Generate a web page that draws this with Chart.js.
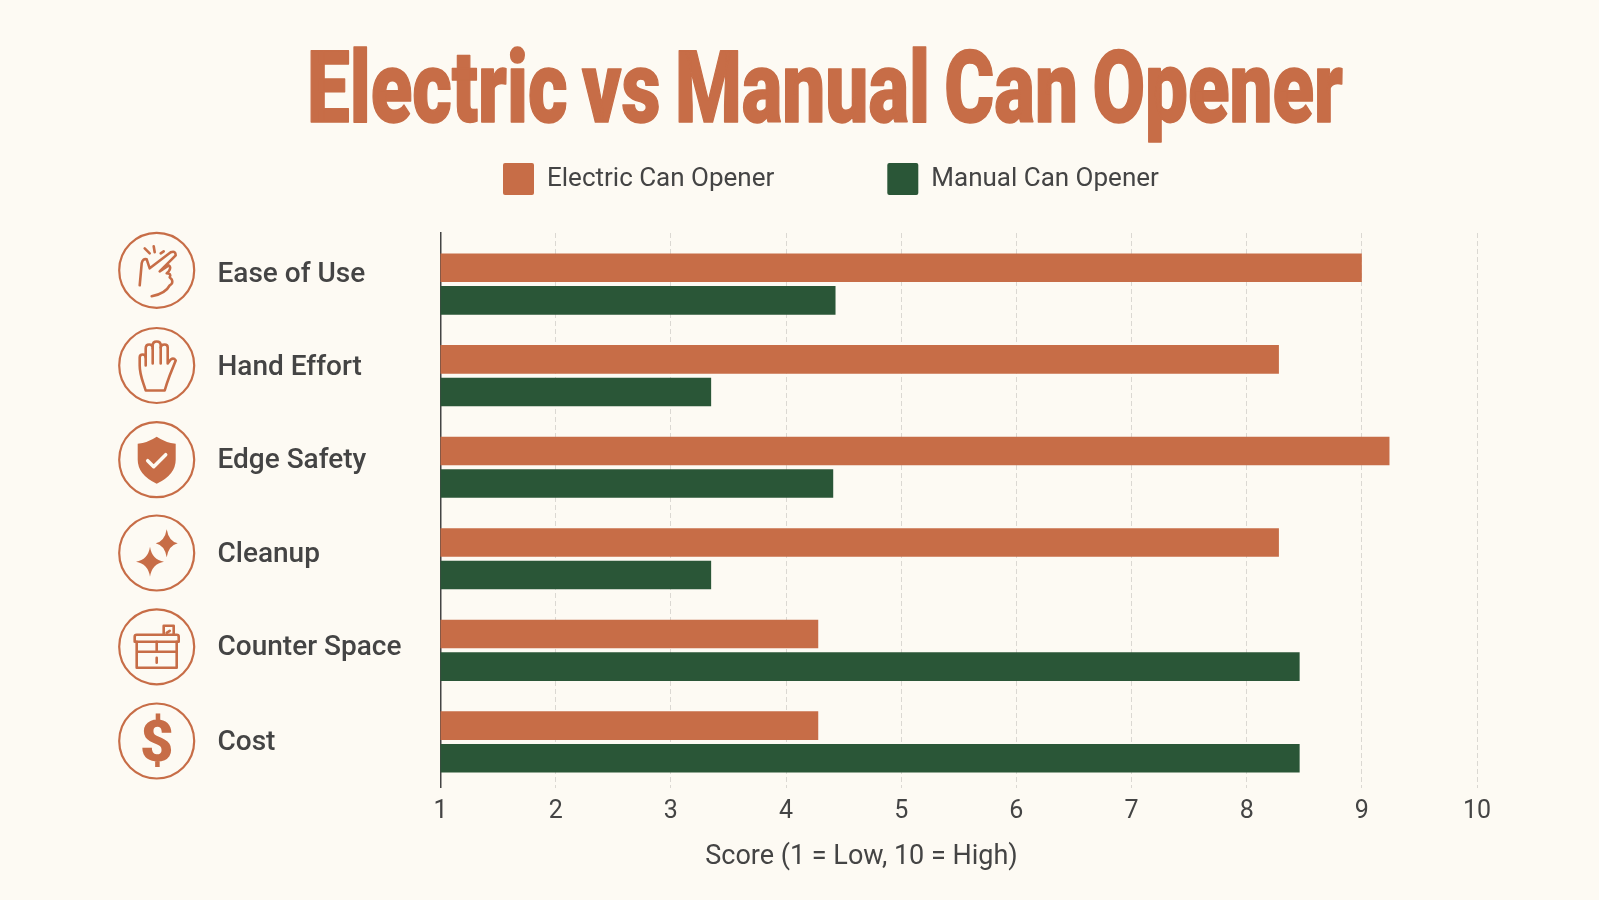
<!DOCTYPE html>
<html>
<head>
<meta charset="utf-8">
<title>Electric vs Manual Can Opener</title>
<script src="https://cdn.jsdelivr.net/npm/chart.js@4"></script>
<style>
  html, body { margin: 0; padding: 0; background: #FDFAF3; }
  canvas { display: block; }
</style>
</head>
<body>
<canvas id="chart_scores" width="1599" height="900"></canvas>
<script>
const categories = ['Ease of Use', 'Hand Effort', 'Edge Safety', 'Cleanup', 'Counter Space', 'Cost'];
const electricScores = [9.0, 8.28, 9.24, 8.28, 4.28, 4.28];
const manualScores = [4.43, 3.35, 4.41, 3.35, 8.46, 8.46];
const scoreTicks = [1, 2, 3, 4, 5, 6, 7, 8, 9, 10];
const chartTitle = 'Electric vs Manual Can Opener';
const axisTitle = 'Score (1 = Low, 10 = High)';

const ORANGE = '#C76D47';
const GREEN = '#2A5637';
const TEXT = '#444444';
const PAPER = '#FDFAF3';

// left column rows are spaced a little wider than the bars
const iconCenterY = [270.3, 365.5, 459.7, 553, 646.8, 741];
const labelBaseY = [281.7, 375, 468.3, 561.7, 654.5, 750];

function strokeIcon(ctx, d) {
    ctx.stroke(new Path2D(d));
}

function star(cx, cy, rx, ry) {
    return `M${cx},${cy - ry} Q${cx + 2},${cy - 2} ${cx + rx},${cy} Q${cx + 2},${cy + 2} ${cx},${cy + ry} Q${cx - 2},${cy + 2} ${cx - rx},${cy} Q${cx - 2},${cy - 2} ${cx},${cy - ry} Z`;
}

const icons = [
    function (ctx) {
        ctx.lineWidth = 2.6;
        strokeIcon(ctx, 'M-17,15 L-15,-7 Q-14,-12 -10,-11 L-7,-2 L14,-18 Q19,-20 19,-15 L3,1 L12,-5 Q15,-3 12,1 L10,3 Q15,3 13,7 L15,9 Q17,13 13,15 Q9,23 -5,26');
        strokeIcon(ctx, 'M-12,-22 L-7,-17 M-3,-24 L-2,-18 M4,-17 L7,-19');
    },
    function (ctx) {
        ctx.lineWidth = 2.6;
        strokeIcon(ctx, 'M-11,25 C-14,15 -17,10 -17,0 L-17,-8 Q-17,-11 -14,-11 Q-11,-11 -11,-8 L-11,-17 Q-11,-21 -7.5,-21 Q-4,-21 -4,-17 L-4,-20 Q-4,-24 0,-24 Q4,-24 4,-20 L4,-18 Q4,-21 8,-21 Q11,-21 11,-18 L11,-2 L14,-6 Q17,-8 19,-5 L13,10 Q10,18 8,25 Z');
        strokeIcon(ctx, 'M-11,-8 L-11,0 M-4,-17 L-4,-2 M4,-18 L4,-2');
    },
    function (ctx) {
        ctx.fill(new Path2D('M0,-23 Q9,-17 19,-16 L19,0 Q19,15 0,24 Q-19,15 -19,0 L-19,-16 Q-9,-17 0,-23 Z'));
        ctx.save();
        ctx.strokeStyle = PAPER;
        ctx.lineWidth = 3.5;
        strokeIcon(ctx, 'M-9,1 L-3,7 L9,-5');
        ctx.restore();
    },
    function (ctx) {
        ctx.fill(new Path2D(star(-6.7, 8.7, 14, 15)));
        ctx.fill(new Path2D(star(10, -9.7, 11, 14)));
    },
    function (ctx) {
        ctx.lineWidth = 2.6;
        strokeIcon(ctx, 'M-22,-5 L-22,-10 Q-22,-12 -20,-12 L20,-12 Q22,-12 22,-10 L22,-5 Z');
        strokeIcon(ctx, 'M-20,-5 L-20,21 L20,21 L20,-5 M-20,5 L20,5 M0,-5 L0,5 M0,11 L0,16');
        strokeIcon(ctx, 'M7,-12 L7,-21 L17,-21 L17,-12 M10,-14 L13,-16');
    },
    function (ctx) {
        ctx.font = '900 58px Roboto';
        ctx.textAlign = 'center';
        ctx.textBaseline = 'alphabetic';
        ctx.fillText('$', 0, 20);
    }
];

// title, category column and axis caption are placed by hand, the chart
// layout would only centre them on the plot area
const decorPlugin = {
    id: 'decor',
    afterLayout(chart) {
        chart.legend.left = 503 - 113;
        chart.legend.top = 163 - 113;
    },
    afterDraw(chart) {
        const ctx = chart.ctx;

        // condensed heavy headline: squeeze the face to the wanted width
        ctx.save();
        ctx.fillStyle = ORANGE;
        ctx.strokeStyle = ORANGE;
        ctx.lineWidth = 1.5;
        ctx.lineJoin = 'round';
        ctx.font = '900 101px Roboto';
        ctx.wordSpacing = '-6px';
        ctx.textAlign = 'center';
        ctx.textBaseline = 'alphabetic';
        const squeeze = 1036 / ctx.measureText(chartTitle).width;
        ctx.translate(825, 121.5);
        ctx.scale(squeeze, 1);
        ctx.fillText(chartTitle, 0, 0);
        ctx.strokeText(chartTitle, 0, 0);
        ctx.restore();

        categories.forEach((name, i) => {
            ctx.save();
            ctx.translate(156.7, iconCenterY[i]);
            ctx.strokeStyle = ORANGE;
            ctx.fillStyle = ORANGE;
            ctx.lineWidth = 2.2;
            ctx.lineCap = 'round';
            ctx.lineJoin = 'round';
            ctx.beginPath();
            ctx.arc(0, 0, 37.5, 0, Math.PI * 2);
            ctx.stroke();
            icons[i](ctx);
            ctx.restore();

            ctx.save();
            ctx.fillStyle = TEXT;
            ctx.font = '500 28px Roboto';
            ctx.textAlign = 'left';
            ctx.textBaseline = 'alphabetic';
            ctx.fillText(name, 217.5, labelBaseY[i]);
            ctx.restore();
        });

        ctx.save();
        ctx.fillStyle = TEXT;
        ctx.font = '27px Roboto';
        ctx.textAlign = 'center';
        ctx.textBaseline = 'alphabetic';
        ctx.fillText(axisTitle, 861.5, 864);
        ctx.restore();
    }
};

function createChart() {
    const chart = new Chart('chart_scores', {
        type: 'bar',
        data: {
            datasets: [
                {
                    label: 'Electric Can Opener',
                    data: electricScores.map((v, i) => ({ x: v, y: i })),
                    backgroundColor: ORANGE
                },
                {
                    label: 'Manual Can Opener',
                    data: manualScores.map((v, i) => ({ x: v, y: i })),
                    backgroundColor: GREEN
                }
            ]
        },
        plugins: [decorPlugin],
        options: {
            indexAxis: 'y',
            responsive: false,
            animation: false,
            layout: {
                padding: { left: 440.5, right: 122, top: 78, bottom: 72.5 }
            },
            datasets: {
                bar: { categoryPercentage: 0.711, barPercentage: 0.878 }
            },
            scales: {
                x: {
                    type: 'linear',
                    min: 1,
                    max: 10,
                    afterBuildTicks: scale => {
                        scale.ticks = scoreTicks.map(v => ({ value: v }));
                    },
                    afterFit: scale => {
                        scale.height = 40;
                    },
                    grid: { color: '#DBD8D2', lineWidth: 1, drawTicks: false },
                    border: { display: false, dash: [5, 3] },
                    ticks: {
                        color: TEXT,
                        padding: 9,
                        maxRotation: 0,
                        font: { family: 'Roboto', size: 25 }
                    }
                },
                y: {
                    type: 'linear',
                    reverse: true,
                    offset: false,
                    min: -0.558,
                    max: 5.498,
                    // one tick per row, bar thickness is taken from this spacing
                    afterBuildTicks: scale => {
                        scale.ticks = categories.map((c, i) => ({ value: i }));
                    },
                    grid: { display: false, drawTicks: false },
                    border: { color: '#444444', width: 1.5 },
                    ticks: { display: false }
                }
            },
            plugins: {
                legend: {
                    position: 'top',
                    align: 'start',
                    labels: {
                        boxWidth: 31,
                        boxHeight: 32,
                        padding: 113,
                        color: TEXT,
                        useBorderRadius: true,
                        borderRadius: 2,
                        font: { family: 'Roboto', size: 26 }
                    }
                },
                tooltip: { enabled: false }
            }
        }
    });

    return chart;
}

createChart();
</script>
</body>
</html>
